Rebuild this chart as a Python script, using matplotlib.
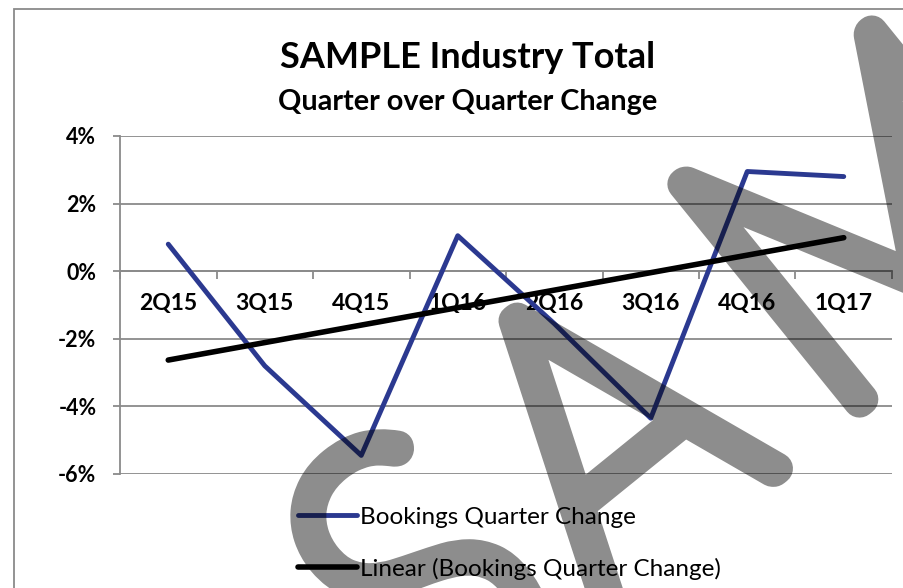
import numpy as np
import matplotlib
matplotlib.use("Agg")
import matplotlib.pyplot as plt
from matplotlib.patches import Rectangle, PathPatch
from matplotlib.ticker import FuncFormatter
from matplotlib.textpath import TextPath
from matplotlib.font_manager import FontProperties
from matplotlib.path import Path
from matplotlib.transforms import Affine2D

quarters = ["2Q15", "3Q15", "4Q15", "1Q16", "2Q16", "3Q16", "4Q16", "1Q17"]
bookings_change = [0.8, -2.8, -5.45, 1.05, -1.55, -4.35, 2.95, 2.8]
yticks = [-6, -4, -2, 0, 2, 4]

plt.rcParams['font.family'] = ['Lato', 'DejaVu Sans']

W, H = 904, 588
fig = plt.figure(figsize=(W / 100, H / 100), dpi=100)

# outer chart border (runs off the right/bottom edge)
fig.patches.append(Rectangle((14 / W, -0.1), 1.2, 1 - 9 / H + 0.1, transform=fig.transFigure,
                             fill=False, edgecolor='#8a8a8a', linewidth=1.3))

ax = fig.add_axes([120 / W, 1 - 474 / H, (892 - 120) / W, (474 - 136) / H])

x = np.arange(len(quarters))
blue = '#2b3990'
ax.plot(x, bookings_change, color=blue, linewidth=3.5, solid_capstyle='round',
        label='Bookings Quarter Change', zorder=4)

slope, icpt = np.polyfit(x, bookings_change, 1)
ax.plot(x, slope * x + icpt, color='black', linewidth=4, solid_capstyle='round',
        label='Linear (Bookings Quarter Change)', zorder=5)

ax.set_xlim(-0.5, len(quarters) - 0.5)
ax.set_ylim(-6, 4)
ax.set_yticks(yticks)
ax.yaxis.set_major_formatter(FuncFormatter(lambda v, p: f"{v:.0f}%"))
for v in yticks:
    ax.axhline(v, color='#8a8a8a', linewidth=1.3, zorder=1)

for s in ['top', 'right']:
    ax.spines[s].set_visible(False)
ax.spines['left'].set_color('#8a8a8a')
ax.spines['left'].set_linewidth(1.3)
ax.spines['bottom'].set_position(('data', 0))
ax.spines['bottom'].set_color('#8a8a8a')
ax.spines['bottom'].set_linewidth(1.3)

ax.set_xticks(x)
ax.set_xticklabels(quarters)
ax.set_xticks(np.arange(-0.5, len(quarters)), minor=True)
ax.tick_params(axis='x', which='major', length=0, pad=16, labelsize=16.5)
ax.tick_params(axis='x', which='minor', length=6, width=1.3, color='#8a8a8a', direction='out')
ax.tick_params(axis='y', length=5, width=1.3, color='#8a8a8a', labelsize=15.5, pad=12)
for lab in ax.get_xticklabels() + ax.get_yticklabels():
    lab.set_fontweight('bold')

fig.text(468 / W, 1 - 58 / H, "SAMPLE Industry Total", ha='center', va='center',
         fontsize=26, fontweight='bold')
fig.text(468 / W, 1 - 102 / H, "Quarter over Quarter Change", ha='center', va='center',
         fontsize=20.7, fontweight='bold')

leg = ax.legend(loc='upper left', bbox_to_anchor=(288 / W, 1 - 497 / H),
                bbox_transform=fig.transFigure, frameon=False, fontsize=17.5,
                handlelength=2.45, handletextpad=0.12, labelspacing=1.23, borderaxespad=0)

# watermark: letters laid out along a tilted baseline, drawn as one path
fp = FontProperties(family='Lato', weight='light')
em, gap, m_at = 400, 46, 290
parts, cursor, a_left = [], 0.0, 0.0
for ch in "SAMPLE":
    tp = TextPath((0, 0), ch, size=em, prop=fp)
    v = tp.vertices * [0.92, 1.0]
    x0, x1 = v[:, 0].min(), v[:, 0].max()
    if ch == "A":
        a_left = cursor
    if ch == "M":
        cursor = a_left + m_at
    parts.append(Path(v + [cursor - x0, 0], tp.codes))
    cursor += (x1 - x0) + gap
wm_path = Path.make_compound_path(*parts)
wm_tr = Affine2D().translate(-a_left, 0).rotate_deg(39).translate(601, H - 611)


def fade(im, dpi):
    im = im.copy()
    im[..., 3] *= 0.45
    return im, 0, 0


wm = PathPatch(wm_path, facecolor='black', edgecolor='black', linewidth=23,
               joinstyle='round', capstyle='round', transform=wm_tr, zorder=10)
wm.set_agg_filter(fade)
fig.patches.append(wm)

fig.savefig("out.png", dpi=100)
